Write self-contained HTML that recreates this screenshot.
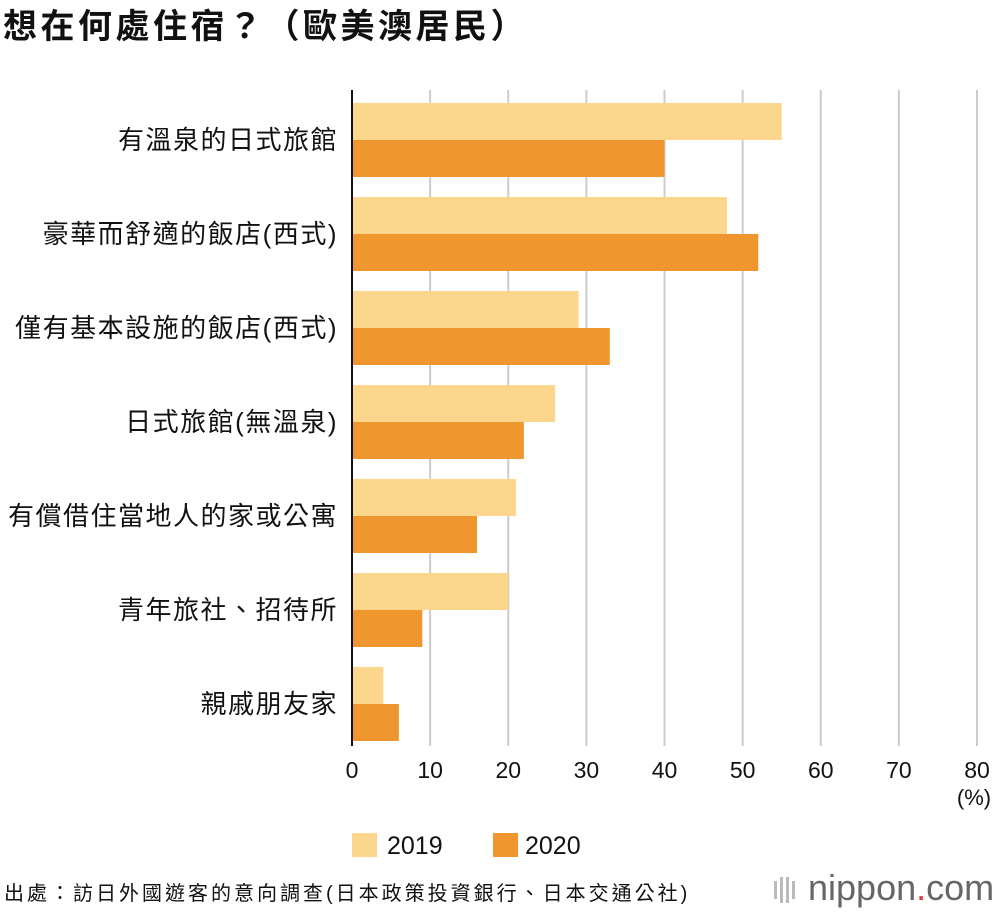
<!DOCTYPE html>
<html><head><meta charset="utf-8">
<style>
body{margin:0;background:#fff;width:1000px;height:912px;overflow:hidden;font-family:"Liberation Sans","Noto Sans CJK TC",sans-serif;}
svg text{font-family:"Liberation Sans","Noto Sans CJK TC",sans-serif;}
</style></head><body>
<svg id="c" width="1000" height="912">
<text x="3" y="38" font-size="34" font-weight="bold" letter-spacing="3.5" fill="#111">想在何處住宿？（歐美澳居民）</text>
<g id="grid"></g><g id="bars"></g><g id="labels"></g><g id="ticks"></g>
<line x1="352" y1="90" x2="352" y2="746" stroke="#111" stroke-width="2"/>
<text x="974" y="805" font-size="22" text-anchor="middle" fill="#111">(%)</text>
<rect x="352" y="833" width="25" height="24" fill="#fcd68c"/>
<text x="387" y="854" font-size="25" fill="#111">2019</text>
<rect x="493" y="833" width="25" height="24" fill="#ef962f"/>
<text x="525" y="854" font-size="25" fill="#111">2020</text>
<text x="4" y="900" font-size="20" letter-spacing="3" fill="#111">出處：訪日外國遊客的意向調查(日本政策投資銀行、日本交通公社)</text>
<g>
<rect x="774" y="881" width="3" height="18" fill="#bbb"/><rect x="780" y="877" width="3" height="26" fill="#bbb"/><rect x="786" y="877" width="3" height="26" fill="#bbb"/><rect x="792" y="881" width="3" height="18" fill="#bbb"/>
<text x="808" y="900" font-size="36" fill="#666">nippon<tspan fill="#e33">.</tspan>com</text>
</g>
</svg>
<script>
const categories=["有溫泉的日式旅館","豪華而舒適的飯店(西式)","僅有基本設施的飯店(西式)","日式旅館(無溫泉)","有償借住當地人的家或公寓","青年旅社、招待所","親戚朋友家"];
const values2019=[55,48,29,26,21,20,4];
const values2020=[40,52,33,22,16,9,6];
const tickLabels=[0,10,20,30,40,50,60,70,80];
const NS="http://www.w3.org/2000/svg";
const x0=352,x1=977,xmax=80;
const xs=v=>x0+v/xmax*(x1-x0);
const gTop=103,gStep=94,bh=37;
function mk(t,a,p){const e=document.createElementNS(NS,t);for(const k in a)e.setAttribute(k,a[k]);p.appendChild(e);return e;}
const grid=document.getElementById('grid'),ticks=document.getElementById('ticks'),bars=document.getElementById('bars'),labels=document.getElementById('labels');
tickLabels.forEach(t=>{
 if(t>0){const l=mk('line',{x1:xs(t),x2:xs(t),y1:90,y2:746,stroke:'#ccc','stroke-width':2},grid);
 
 }
 const tx=mk('text',{x:xs(t),y:778,'font-size':23,'text-anchor':'middle',fill:'#111'},ticks);tx.textContent=t;
 
 
});
categories.forEach((c,i)=>{
 const y=gTop+i*gStep;
 const a=mk('rect',{x:x0,y:y,width:xs(values2019[i])-x0,height:bh,fill:'#fcd68c'},bars);
 
 
 const b=mk('rect',{x:x0,y:y+bh,width:xs(values2020[i])-x0,height:bh,fill:'#ef962f'},bars);
 
 
 const t=mk('text',{x:338,y:y+bh+9,'font-size':26,'letter-spacing':1.5,'text-anchor':'end',fill:'#111'},labels);t.textContent=c;
 
 
});
</script>
</body></html>
